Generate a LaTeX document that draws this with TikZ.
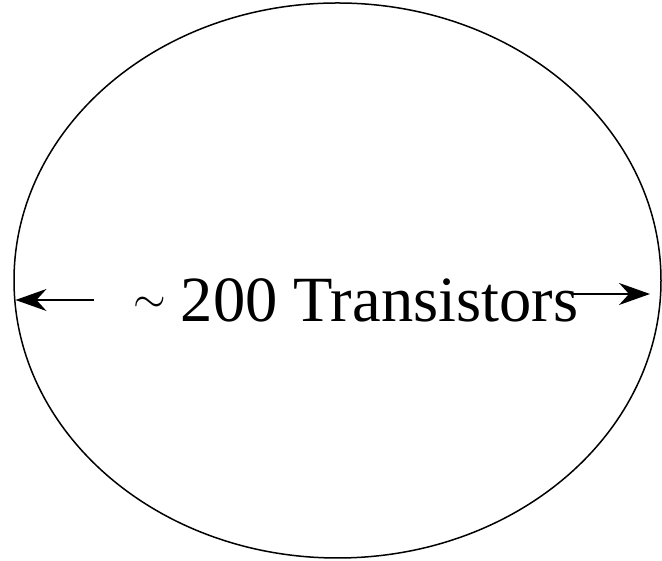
\documentclass[tikz,border=0pt]{standalone}
\usepackage{fontspec}
\setmainfont{Liberation Serif}
\usetikzlibrary{shapes.geometric,arrows.meta}
\begin{document}
\begin{tikzpicture}[x=1pt,y=1pt,
  dimarrow/.style={line width=1.4pt,-{Stealth[length=31pt,width=22pt,inset=10pt]}},
  lbl/.style={inner sep=0pt,font=\fontsize{64.5}{64.5}\selectfont}]
\useasboundingbox (0,0) rectangle (662,561);
\node[draw,ellipse,line width=1.5pt,minimum width=647pt,minimum height=555pt,inner sep=0pt] (oval) at (337.5,280.5) {};
\node[lbl,anchor=base west] (txt) at (133,239) {\raisebox{9.5pt}{\scalebox{4.2}{\fontsize{10}{12}\selectfont$\sim$}}\hspace{15pt}200 Transistors};
\coordinate (ls) at (94,261);
\coordinate (le) at (15.5,261);
\coordinate (rs) at (572,267);
\coordinate (re) at (650,267);
\draw[dimarrow] (ls) -- (le);
\draw[dimarrow] (rs) -- (re);
\end{tikzpicture}
\end{document}
